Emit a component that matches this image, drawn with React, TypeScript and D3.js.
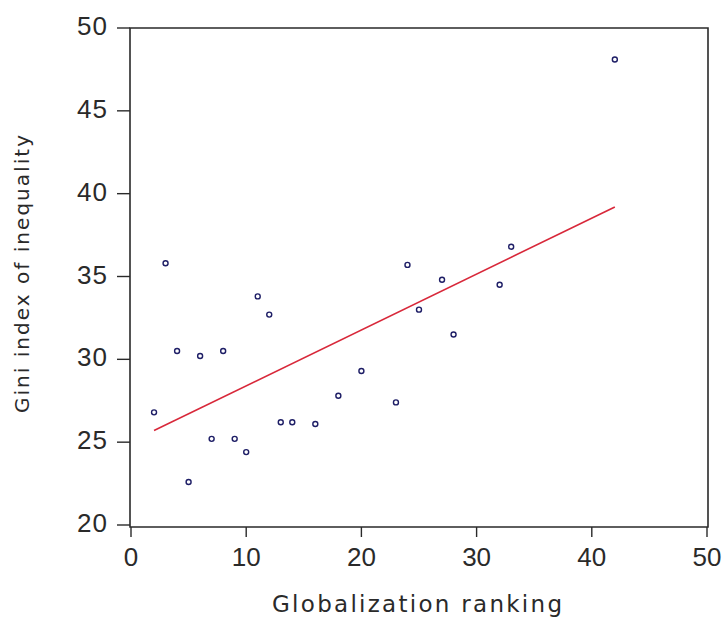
import React from "react";
import * as d3 from "d3";

const globalizationRank = [2, 3, 4, 5, 6, 7, 8, 9, 10, 11, 12, 13, 14, 16, 18, 20, 23, 24, 25, 27, 28, 32, 33, 42];
const giniIndex = [26.8, 35.8, 30.5, 22.6, 30.2, 25.2, 30.5, 25.2, 24.4, 33.8, 32.7, 26.2, 26.2, 26.1, 27.8, 29.3, 27.4, 35.7, 33.0, 34.8, 31.5, 34.5, 36.8, 48.1];
const fitX = [2, 42];
const fitY = [25.7, 39.2];
const xTicks = [0, 10, 20, 30, 40, 50];
const yTicks = [20, 25, 30, 35, 40, 45, 50];
const xTitle = "Globalization ranking";
const yTitle = "Gini index of inequality";

export default function App() {
  const W = 727, H = 618;
  const left = 130, right = 708, top = 28, bottom = 527;
  const x = d3.scaleLinear().domain([0, 50]).range([131, 707]);
  const y = d3.scaleLinear().domain([20, 50]).range([525, 28]);
  const line = d3.line<number>().x((d) => x(fitX[d])).y((d) => y(fitY[d]));
  const font = "'Liberation Sans', Arial, sans-serif";
  const titleFont = "'DejaVu Sans', 'Liberation Sans', sans-serif";
  const ink = "#2a2a2a";
  return (
    <svg width={W} height={H} style={{ position: "absolute", left: 0, top: 0, background: "#fff" }}>
      <rect x={0} y={0} width={W} height={H} fill="#fff" />
      {/* frame */}
      <path d={`M${left},${top}H${right}V${bottom}H${left}Z`} fill="none" stroke={ink} strokeWidth={1.6} />
      {/* y ticks */}
      {yTicks.map((t) => (
        <g key={"y" + t}>
          <line x1={117} x2={left} y1={y(t)} y2={y(t)} stroke={ink} strokeWidth={1.4} />
          <text x={108} y={y(t) + 7} textAnchor="end" fontFamily={font} fontSize={26} fill={ink} letterSpacing={1}>
            {t}
          </text>
        </g>
      ))}
      {/* x ticks */}
      {xTicks.map((t) => (
        <g key={"x" + t}>
          <line x1={x(t)} x2={x(t)} y1={bottom} y2={bottom + 10} stroke={ink} strokeWidth={1.4} />
          <text x={x(t)} y={566} textAnchor="middle" fontFamily={font} fontSize={26} fill={ink}>
            {t}
          </text>
        </g>
      ))}
      {/* fit line */}
      <path d={line([0, 1]) || ""} fill="none" stroke="#d8283a" strokeWidth={1.6} />
      {/* points */}
      {globalizationRank.map((v, i) => (
        <circle key={i} cx={x(v)} cy={y(giniIndex[i])} r={2.5} fill="none" stroke="#1e1e66" strokeWidth={1.4} />
      ))}
      {/* titles */}
      <text x={417} y={612} textAnchor="middle" fontFamily={titleFont} fontSize={23} fill={ink} textLength={290} lengthAdjust="spacing">
        {xTitle}
      </text>
      <text transform="translate(29,274) rotate(-90)" textAnchor="middle" fontFamily={titleFont} fontSize={20} fill={ink} textLength={278} lengthAdjust="spacing">
        {yTitle}
      </text>
    </svg>
  );
}
